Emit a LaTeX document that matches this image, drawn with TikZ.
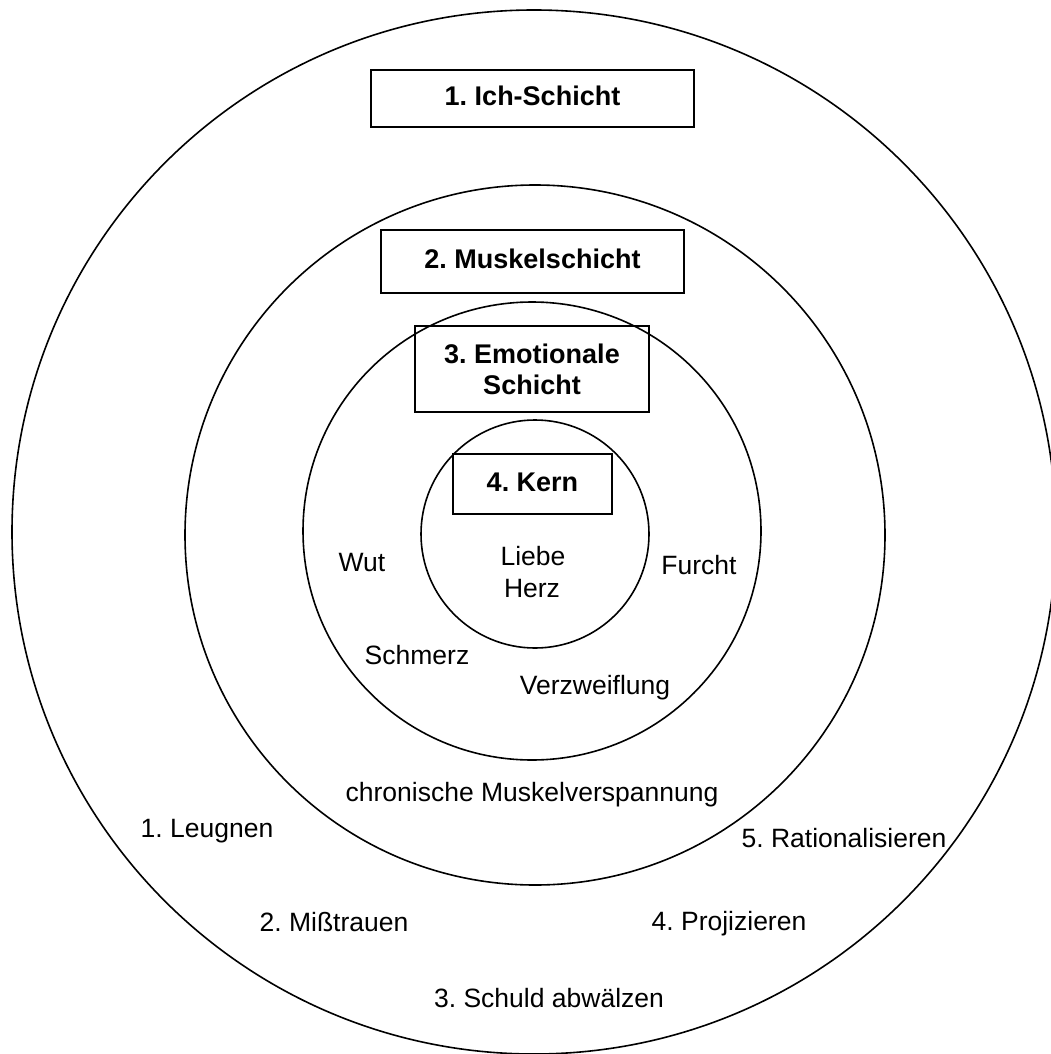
\documentclass[tikz,border=0pt]{standalone}
\usepackage{fontspec}
\setmainfont{Liberation Sans}
\frenchspacing
\begin{document}
\begin{tikzpicture}[x=1pt,y=-1pt,
  ring/.style={draw=black,line width=1.6pt},
  layerbox/.style={draw=black,line width=1.6pt,inner sep=0pt,
    font=\fontsize{27}{31}\selectfont\bfseries,align=center},
  lbl/.style={inner sep=0pt,anchor=base,font=\fontsize{26.5}{32}\selectfont,align=center}]
\useasboundingbox (0,0) rectangle (1051,1054);
\fill[white] (0,0) rectangle (1051,1054);
% circles
\draw[ring] (534,532) circle[radius=522];
\draw[ring] (535,535) circle[radius=350];
\draw[ring] (532,531) circle[radius=229];
\draw[ring] (535,534) circle[radius=114];
% layer boxes
\node[layerbox,minimum width=323pt,minimum height=57pt,text height=15pt,text depth=0pt] (b1) at (532.5,98.5) {1. Ich-Schicht};
\node[layerbox,minimum width=303pt,minimum height=63pt,text height=13pt,text depth=0pt] (b2) at (532.5,261.5) {2. Muskelschicht};
\node[layerbox,minimum width=234pt,minimum height=86pt] (b3) at (532,369) {3. Emotionale\\Schicht};
\node[layerbox,minimum width=159pt,minimum height=60pt,text height=14pt,text depth=0pt] (b4) at (532.5,484) {4. Kern};
% labels
\node[lbl] (liebe) at (533,565) {Liebe};
\node[lbl] (herz) at (532,597) {Herz};
\node[lbl] (wut) at (362,571) {Wut};
\node[lbl] (furcht) at (699,574) {Furcht};
\node[lbl] (schmerz) at (417,664) {Schmerz};
\node[lbl] (verzw) at (595,694) {Verzweiflung};
\node[lbl] (chron) at (532,801) {chronische Muskelverspannung};
\node[lbl] (leug) at (207,837) {1. Leugnen};
\node[lbl] (miss) at (334,931) {2. Mißtrauen};
\node[lbl] (schuld) at (549,1007) {3. Schuld abwälzen};
\node[lbl] (proj) at (729,930) {4. Projizieren};
\node[lbl] (ratio) at (844,847) {5. Rationalisieren};
\end{tikzpicture}
\end{document}
